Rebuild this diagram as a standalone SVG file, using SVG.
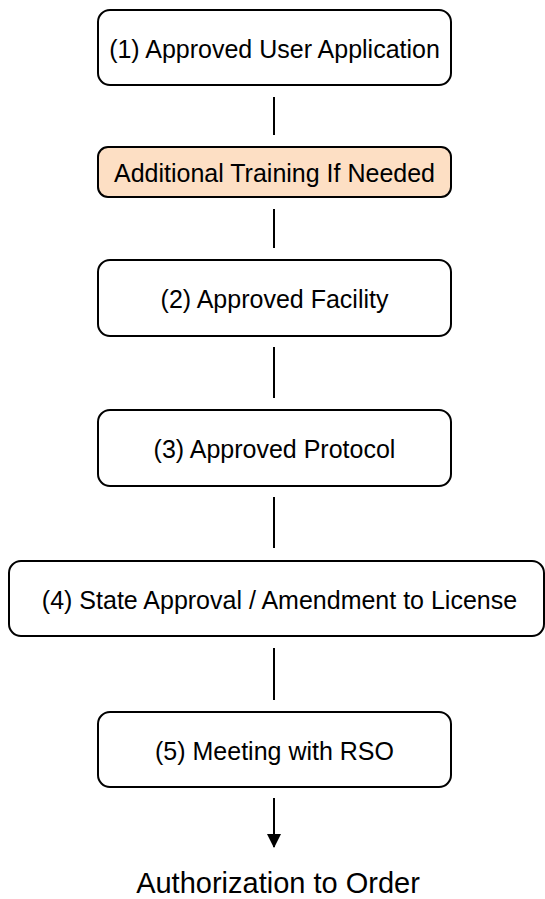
<svg xmlns="http://www.w3.org/2000/svg" width="545" height="899" viewBox="0 0 545 899">
<defs>
<style>
.box{fill:#ffffff;stroke:#000000;stroke-width:2}
.peach{fill:#FDDFC4}
.t{font-family:"Liberation Sans",Arial,sans-serif;font-size:25px;fill:#000000;text-anchor:middle}
.c{stroke:#000000;stroke-width:2;fill:none}
</style>
<marker id="arr" markerWidth="7" markerHeight="7" refX="6.5" refY="3.5" orient="auto" markerUnits="strokeWidth">
<path d="M0,0 L7,3.5 L0,7 z" fill="#000000"/>
</marker>
</defs>
<rect width="545" height="899" fill="#ffffff"/>
<g id="connectors">
<line class="c" x1="274" y1="97" x2="274" y2="135"/>
<line class="c" x1="274" y1="209" x2="274" y2="248"/>
<line class="c" x1="274" y1="347" x2="274" y2="398"/>
<line class="c" x1="274" y1="497" x2="274" y2="548"/>
<line class="c" x1="274" y1="648" x2="274" y2="700"/>
<line class="c" x1="274" y1="798" x2="274" y2="847" marker-end="url(#arr)"/>
</g>
<g id="n1">
<rect class="box" x="98" y="10" width="353" height="75" rx="12"/>
<text class="t" x="274.5" y="58">(1) Approved User Application</text>
</g>
<g id="n2">
<rect class="box peach" x="98" y="147" width="353" height="50" rx="10"/>
<text class="t" x="274.5" y="182">Additional Training If Needed</text>
</g>
<g id="n3">
<rect class="box" x="98" y="260" width="353" height="76" rx="12"/>
<text class="t" x="274.5" y="308">(2) Approved Facility</text>
</g>
<g id="n4">
<rect class="box" x="98" y="410" width="353" height="76" rx="12"/>
<text class="t" x="274.5" y="458">(3) Approved Protocol</text>
</g>
<g id="n5">
<rect class="box" x="9" y="561" width="535" height="75" rx="12"/>
<text class="t" x="279.5" y="609">(4) State Approval / Amendment to License</text>
</g>
<g id="n6">
<rect class="box" x="98" y="712" width="353" height="75" rx="12"/>
<text class="t" x="274.5" y="760">(5) Meeting with RSO</text>
</g>
<g id="n7">
<text class="t" x="278" y="893" style="font-size:29px">Authorization to Order</text>
</g>
</svg>
